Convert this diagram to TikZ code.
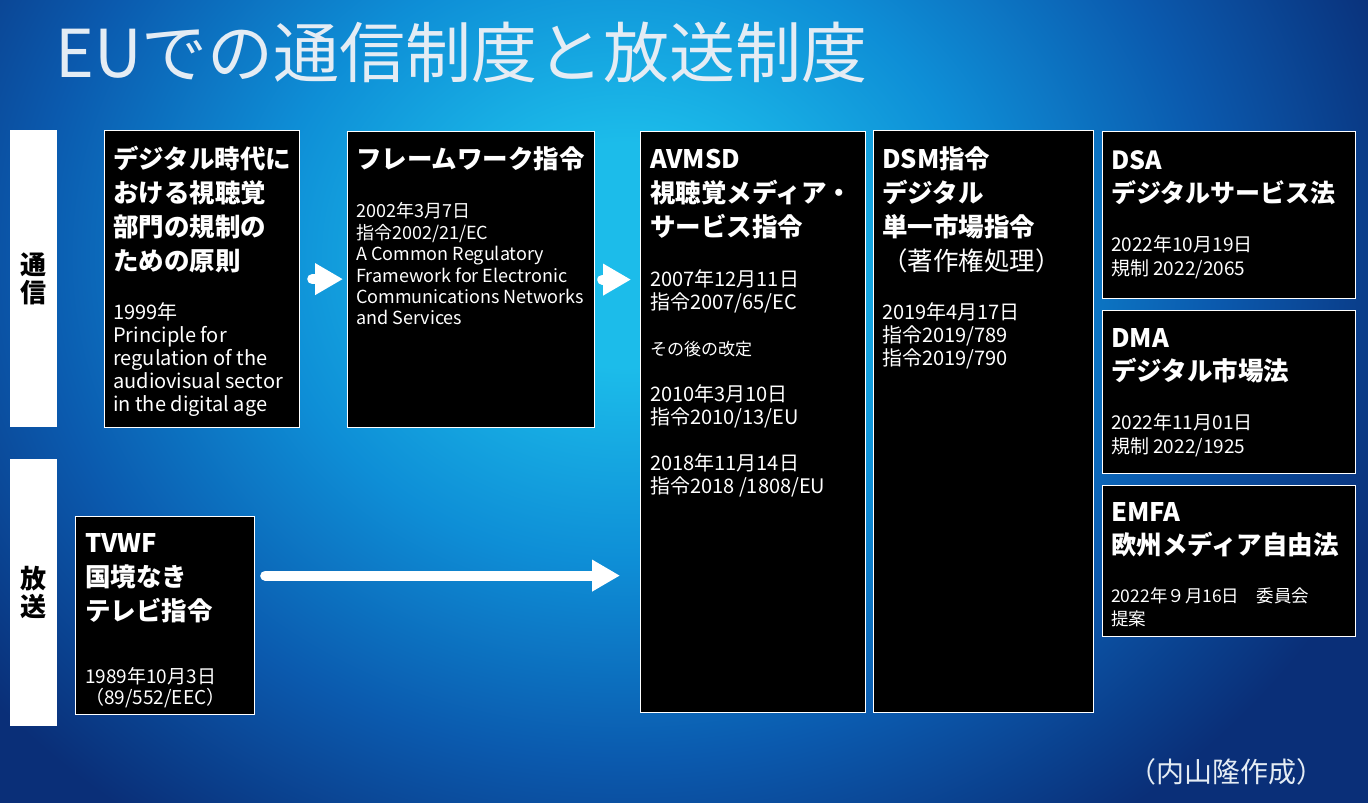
\documentclass[tikz,border=0pt]{standalone}
\usepackage{fontspec}
\setmainfont{Noto Sans CJK JP}
\usetikzlibrary{arrows.meta}

\definecolor{glowcore}{HTML}{1CBCEA}
\definecolor{glowmid}{HTML}{0E8ED6}
\definecolor{glowdeep}{HTML}{0B5AAE}
\definecolor{glowedge}{HTML}{0A2F78}
\definecolor{titletint}{HTML}{E4ECF4}

\pgfdeclareradialshading{slideglow}{\pgfpointorigin}{color(0bp)=(glowcore); color(4bp)=(glowcore); color(11bp)=(glowmid); color(18bp)=(glowdeep); color(25bp)=(glowedge); color(50bp)=(glowedge)}

\tikzset{
  panel/.style={draw=white, line width=1.2pt, fill=black, anchor=north west, inner sep=0pt},
  sidebar/.style={fill=white, anchor=north west, inner sep=0pt, minimum width=47pt, align=center, font=\bfseries\fontsize{26}{28}\selectfont},
  headtxt/.style={anchor=north west, inner sep=0pt, align=left, text=white, font=\bfseries\fontsize{25.5}{34}\selectfont},
  bodytxt/.style={anchor=north west, inner sep=0pt, align=left, text=white, font=\fontsize{20}{23}\selectfont},
  flowarrow/.style={draw=white, line width=10pt, line cap=round, -{Triangle[length=28pt,width=30pt]}},
}

\begin{document}
\begin{tikzpicture}[x=1pt,y=-1pt]
\useasboundingbox (0,0) rectangle (1368,803);

% Backdrop
\fill[glowedge] (0,0) rectangle (1368,803);
\begin{scope}
\clip (0,0) rectangle (1368,803);
\shade[shading=slideglow] (625,255) ellipse (820 and 700);
\end{scope}

% Title
\node[anchor=west, inner sep=0pt, text=titletint, font=\fontsize{66}{66}\selectfont] (title) at (55,52) {EUでの通信制度と放送制度};

% Row labels
\node[sidebar, minimum height=297pt] (tsushin) at (10,130) {通\\信};
\node[sidebar, minimum height=267pt] (hoso) at (10,459) {放\\送};

% Panels
\node[panel, minimum width=195pt, minimum height=297pt] (prin) at (104,130) {};
\node[panel, minimum width=247pt, minimum height=296pt] (frame) at (347,131) {};
\node[panel, minimum width=225pt, minimum height=581pt] (avmsd) at (640,131) {};
\node[panel, minimum width=220pt, minimum height=582pt] (dsm) at (873,130) {};
\node[panel, minimum width=253pt, minimum height=167pt] (dsa) at (1102,131) {};
\node[panel, minimum width=253pt, minimum height=163pt] (dma) at (1102,310) {};
\node[panel, minimum width=253pt, minimum height=151pt] (emfa) at (1102,485) {};
\node[panel, minimum width=179pt, minimum height=198pt] (tvwf) at (75,516) {};

% Principle 1999
\node[headtxt] (prinhd) at (113,146) {デジタル時代に\\おける視聴覚\\部門の規制の\\ための原則};
\node[bodytxt] (prinbd) at (113,302.6) {1999年\\Principle for\\regulation of the\\audiovisual sector\\in the digital age};

% Framework directive
\node[headtxt] (framehd) at (356,146) {フレームワーク指令};
\node[bodytxt, font=\fontsize{18}{21.4}\selectfont] (framebd) at (356,202.5) {2002年3月7日\\指令2002/21/EC\\A Common Regulatory\\Framework for Electronic\\Communications Networks\\and Services};

% AVMSD
\node[headtxt] (avmsdhd) at (650,148.6) {AVMSD\\視聴覚メディア・\\サービス指令};
\node[bodytxt] (avmsdbd) at (650,269.6) {2007年12月11日\\指令2007/65/EC\\[23pt]{\fontsize{17}{23}\selectfont その後の改定}\\[23pt]2010年3月10日\\指令2010/13/EU\\[23pt]2018年11月14日\\指令2018 /1808/EU};

% DSM
\node[headtxt] (dsmhd) at (882,146) {DSM指令\\デジタル\\単一市場指令\\{\mdseries （著作権処理）}};
\node[bodytxt] (dsmbd) at (882,302.6) {2019年4月17日\\指令2019/789\\指令2019/790};

% DSA, DMA, EMFA
\node[headtxt, font=\bfseries\fontsize{25}{33}\selectfont] (dsahd) at (1111,150.6) {DSA\\デジタルサービス法};
\node[bodytxt, font=\fontsize{19}{24}\selectfont] (dsabd) at (1111,235) {2022年10月19日\\規制 2022/2065};
\node[headtxt, font=\bfseries\fontsize{25.5}{33}\selectfont] (dmahd) at (1111,328.6) {DMA\\デジタル市場法};
\node[bodytxt, font=\fontsize{19}{24}\selectfont] (dmabd) at (1111,413) {2022年11月01日\\規制 2022/1925};
\node[headtxt, font=\bfseries\fontsize{25.5}{33}\selectfont] (emfahd) at (1111,502.6) {EMFA\\欧州メディア自由法};
\node[bodytxt, font=\fontsize{17.5}{23}\selectfont] (emfabd) at (1111,588) {2022年９月16日　委員会\\提案};

% TVWF
\node[headtxt] (tvwfhd) at (85,533.6) {TVWF\\国境なき\\テレビ指令};
\node[bodytxt, font=\fontsize{19}{21}\selectfont] (tvwfbd) at (85,667) {1989年10月3日\\（89/552/EEC）};

% Flow
\draw[flowarrow] ([xshift=12pt]prin.east) -- ([xshift=-4pt]prin.east -| frame.west);
\draw[flowarrow] ([xshift=7pt]frame.east) -- ([xshift=-9pt]frame.east -| avmsd.west);
\draw[flowarrow] ([xshift=10pt,yshift=40pt]tvwf.east) -- ([xshift=-20pt,yshift=40pt]tvwf.east -| avmsd.west);

% Credit
\node[inner sep=0pt, text=titletint, font=\fontsize{28}{28}\selectfont] (credit) at (1226,772) {（内山隆作成）};
\end{tikzpicture}
\end{document}
